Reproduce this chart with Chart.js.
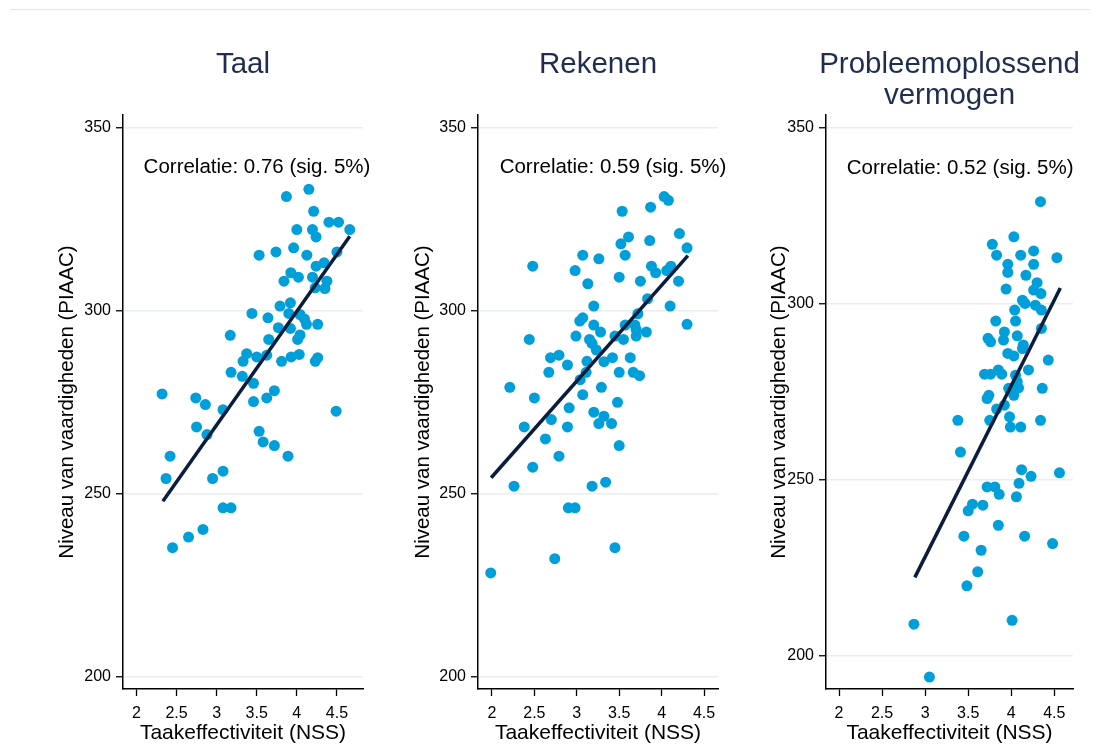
<!DOCTYPE html>
<html>
<head>
<meta charset="utf-8">
<script src="https://cdn.jsdelivr.net/npm/chart.js@4/dist/chart.umd.min.js"></script>
<style>
  body { margin: 0; background: #fff; }
  #wrap { position: relative; width: 1100px; height: 751px; overflow: hidden; }
  #topline { position: absolute; left: 10px; top: 9px; width: 1080px; height: 1px; background: #e6e6e6; }
  canvas { position: absolute; top: 0; }
</style>
</head>
<body>
<div id="wrap">
  <div id="topline"></div>
  <canvas id="taal" width="370" height="751" style="left:0px"></canvas>
  <canvas id="rekenen" width="360" height="751" style="left:370px"></canvas>
  <canvas id="probleem" width="370" height="751" style="left:730px"></canvas>
</div>
<script>
// Taal
const taalX = [4.15, 3.87, 4.21, 4.40, 4.52, 4.66, 4.00, 4.195, 4.24, 3.96, 4.125, 3.53, 3.74, 4.50, 4.24, 4.34,
  3.925, 4.02, 4.195, 4.375, 3.84, 4.23, 4.35, 3.92, 3.79, 3.44, 3.64, 3.90, 4.04, 4.095, 4.12, 4.26, 3.77, 3.92,
  4.04, 4.01, 3.17, 3.65, 3.375, 3.33, 3.50, 3.625, 3.81, 3.93, 4.03, 4.26, 4.23, 3.18, 3.32, 3.46, 3.72, 3.625,
  3.46, 2.32, 2.74, 2.86, 3.08, 4.49, 2.75, 2.88, 3.53, 3.58, 3.72, 3.89, 2.42, 2.37, 2.95, 3.08, 3.08, 3.18,
  2.83, 2.65, 2.45];
const taalY = [333.1, 331.1, 327.1, 324.1, 324.1, 322.1, 322.1, 322.1, 320.1, 317.1, 315.1, 315.1, 316.0, 316.0, 312.1, 313.0,
  310.3, 309.1, 309.1, 308.0, 308.0, 306.2, 306.0, 302.1, 301.2, 299.2, 298.0, 299.2, 298.9, 297.7, 296.2, 296.2, 295.3, 295.1,
  293.3, 292.1, 293.2, 292.1, 288.2, 286.1, 287.3, 287.8, 286.1, 287.3, 288.0, 287.1, 286.1, 283.1, 282.0, 280.1, 278.1, 276.1,
  275.1, 277.2, 276.1, 274.3, 272.9, 272.5, 268.2, 266.1, 267.0, 264.1, 263.1, 260.2, 260.2, 254.1, 254.1, 256.1, 246.1, 246.1,
  240.2, 238.1, 235.2];
const taalFitX = [2.33, 4.66];
const taalFitY = [247.9, 320.3];

// Rekenen
const rekenenX = [4.03, 4.08, 3.87, 3.535, 3.61, 3.52, 3.86, 4.21, 4.30, 3.57, 3.07, 3.26, 2.48, 2.98, 3.13, 3.50,
  3.88, 3.93, 4.06, 4.11, 4.20, 3.75, 3.835, 4.10, 3.72, 3.20, 3.035, 3.07, 3.20, 3.28, 3.57, 3.685, 3.70, 3.82,
  4.30, 2.44, 2.99, 3.15, 3.18, 3.45, 3.55, 3.70, 3.23, 2.69, 2.79, 3.42, 3.63, 3.12, 3.32, 2.89, 2.67, 3.11,
  3.50, 3.665, 3.74, 3.04, 2.21, 3.29, 2.50, 3.07, 3.48, 2.91, 3.20, 3.32, 3.26, 3.41, 2.38, 2.70, 2.89, 2.63,
  3.50, 2.79, 2.48, 3.34, 2.26, 3.18, 2.90, 2.98, 3.45, 2.74, 1.985];
const rekenenY = [331.1, 330.1, 328.2, 327.1, 320.1, 318.2, 319.1, 321.0, 317.1, 315.1, 315.1, 314.1, 312.1, 310.9, 307.3, 309.1,
  312.1, 310.3, 310.9, 312.1, 308.0, 308.0, 303.2, 301.2, 299.1, 301.2, 297.1, 298.0, 296.0, 294.1, 296.0, 296.0, 294.8, 294.1,
  296.2, 292.1, 293.0, 292.1, 291.0, 293.0, 292.1, 293.0, 289.2, 287.1, 287.8, 287.1, 287.1, 286.1, 286.0, 285.1, 283.1, 283.1,
  283.1, 283.1, 282.2, 281.1, 279.0, 279.0, 276.1, 277.0, 274.9, 273.4, 272.2, 271.1, 269.1, 269.1, 268.2, 270.2, 268.2, 264.9,
  263.1, 260.2, 257.2, 253.1, 252.0, 252.0, 246.1, 246.1, 235.2, 232.2, 228.3];
const rekenenFitX = [1.99, 4.31];
const rekenenFitY = [254.3, 315.0];

// Probleemoplossend vermogen
const probleemX = [4.34, 4.03, 3.78, 4.26, 3.83, 4.11, 4.53, 3.96, 4.26, 3.96, 4.17, 4.30, 3.94, 4.26, 4.345, 4.13,
  4.04, 4.16, 4.28, 4.35, 3.82, 4.05, 3.92, 4.35, 3.73, 3.76, 3.91, 4.07, 4.14, 4.13, 3.96, 4.03, 4.43, 3.69,
  3.76, 3.85, 3.89, 4.05, 4.20, 4.07, 3.97, 4.085, 4.36, 3.74, 3.72, 4.03, 3.92, 3.83, 3.98, 3.38, 3.75, 3.99,
  4.11, 4.34, 3.41, 4.12, 4.23, 4.56, 4.09, 3.72, 3.81, 3.86, 4.06, 3.55, 3.67, 3.50, 3.85, 3.45, 4.155, 4.48,
  3.65, 3.61, 3.485, 2.87, 4.01, 3.05];
const probleemY = [328.9, 318.9, 316.8, 314.9, 313.7, 313.7, 313.0, 311.1, 311.1, 308.8, 308.0, 305.9, 304.1, 303.8, 302.8, 300.9,
  298.1, 300.0, 299.5, 298.1, 295.0, 295.0, 291.9, 292.9, 290.1, 289.1, 289.6, 290.8, 288.2, 287.2, 285.8, 285.1, 283.9, 279.9,
  279.9, 281.1, 279.9, 279.6, 281.1, 277.7, 275.9, 276.0, 275.9, 273.9, 273.0, 273.9, 271.1, 270.0, 267.8, 266.8, 266.8, 264.9,
  264.9, 266.8, 257.8, 252.8, 250.9, 251.9, 248.9, 247.9, 247.9, 245.8, 245.1, 243.0, 242.7, 241.1, 237.0, 233.9, 233.9, 231.8,
  229.9, 223.8, 219.8, 208.9, 210.0, 193.9];
const probleemFitX = [2.88, 4.57];
const probleemFitY = [222.2, 304.4];

const xTicks = [2, 2.5, 3, 3.5, 4, 4.5];
const yTicks = [200, 250, 300, 350];
const correlaties = ['Correlatie: 0.76 (sig. 5%)', 'Correlatie: 0.59 (sig. 5%)', 'Correlatie: 0.52 (sig. 5%)'];

const FONT = "'Liberation Sans', Arial, Helvetica, sans-serif";
const dotColor = '#009fda';
const lineColor = '#0a1d3c';

// tekst "Correlatie" in de grafiek zetten
const notePlugin = {
  id: 'note',
  afterLayout(chart) {
    // titel mag breder zijn dan het plotgebied (zelfde midden)
    const t = chart.titleBlock;
    if (t) { t.left -= 30; t.right += 30; }
  },
  afterDatasetsDraw(chart, args, opts) {
    const ctx = chart.ctx;
    ctx.save();
    ctx.font = '20.5px ' + FONT;
    ctx.fillStyle = '#000';
    ctx.textAlign = 'left';
    ctx.textBaseline = 'middle';
    ctx.fillText(opts.text, chart.scales.x.getPixelForValue(opts.x), chart.scales.y.getPixelForValue(opts.y));
    ctx.restore();
  }
};

function makePanel(id, cfg) {
  const points = cfg.xs.map((x, i) => ({ x: x, y: cfg.ys[i] }));
  const fit = cfg.fitX.map((x, i) => ({ x: x, y: cfg.fitY[i] }));
  const ctx = document.getElementById(id).getContext('2d');
  return new Chart(ctx, {
    type: 'scatter',
    data: {
      datasets: [
        {
          data: fit,
          showLine: true,
          borderColor: lineColor,
          borderWidth: 3.5,
          pointRadius: 0
        },
        {
          data: points,
          backgroundColor: dotColor,
          borderColor: dotColor,
          borderWidth: 0,
          pointRadius: 5.5
        }
      ]
    },
    plugins: [notePlugin],
    options: {
      responsive: false,
      animation: false,
      devicePixelRatio: 1,
      layout: { padding: { left: cfg.padLeft, right: cfg.padRight, top: 49, bottom: 5 } },
      plugins: {
        legend: { display: false },
        tooltip: { enabled: false },
        title: {
          display: true,
          text: cfg.title,
          fullSize: false,
          color: '#1f2d50',
          font: { family: FONT, size: 29.5, weight: 'normal', lineHeight: 1.06 },
          padding: { top: 0, bottom: cfg.titleGap }
        },
        note: { text: cfg.note, x: 2.09, y: cfg.noteY }
      },
      scales: {
        x: {
          type: 'linear',
          min: cfg.xMin,
          max: cfg.xMax,
          afterBuildTicks: s => { s.ticks = xTicks.map(v => ({ value: v })); },
          afterFit: s => { s.height = 57; },
          ticks: {
            color: '#000',
            font: { family: FONT, size: 16 },
            padding: 8,
            maxRotation: 0,
            autoSkip: false,
            callback: v => String(v)
          },
          grid: { drawOnChartArea: false, tickLength: 7, tickColor: '#000', tickWidth: 1.3 },
          border: { color: '#000', width: 1.5 },
          title: {
            display: true,
            text: 'Taakeffectiviteit (NSS)',
            color: '#000',
            font: { family: FONT, size: 21 },
            padding: { top: 0, bottom: 0 }
          }
        },
        y: {
          min: cfg.yMin,
          max: cfg.yMax,
          afterBuildTicks: s => { s.ticks = yTicks.map(v => ({ value: v })); },
          afterFit: s => { s.width = cfg.yWidth; },
          ticks: {
            color: '#000',
            font: { family: FONT, size: 16 },
            padding: 5,
            callback: v => String(v)
          },
          grid: { color: '#e8eef2', lineWidth: 1.5, tickLength: 7, tickColor: '#000', tickWidth: 1.3 },
          border: { color: '#000', width: 1.5 },
          title: {
            display: true,
            text: 'Niveau van vaardigheden (PIAAC)',
            color: '#000',
            font: { family: FONT, size: 20.5 },
            padding: { top: 0, bottom: 0 }
          }
        }
      }
    }
  });
}

makePanel('taal', {
  xs: taalX, ys: taalY, fitX: taalFitX, fitY: taalFitY,
  title: 'Taal', titleGap: 34.7, note: correlaties[0], noteY: 339.2,
  xMin: 1.833, xMax: 4.825, yMin: 196.6, yMax: 353.4,
  padLeft: 55, padRight: 7, yWidth: 68
});
makePanel('rekenen', {
  xs: rekenenX, ys: rekenenY, fitX: rekenenFitX, fitY: rekenenFitY,
  title: 'Rekenen', titleGap: 34.7, note: correlaties[1], noteY: 339.2,
  xMin: 1.835, xMax: 4.665, yMin: 196.6, yMax: 353.4,
  padLeft: 41, padRight: 12, yWidth: 67
});
makePanel('probleem', {
  xs: probleemX, ys: probleemY, fitX: probleemFitX, fitY: probleemFitY,
  title: ['Probleemoplossend', 'vermogen'], titleGap: 3.5, note: correlaties[2], noteY: 338.5,
  xMin: 1.849, xMax: 4.717, yMin: 190.5, yMax: 353.5,
  padLeft: 37, padRight: 27, yWidth: 59
});
</script>
</body>
</html>
